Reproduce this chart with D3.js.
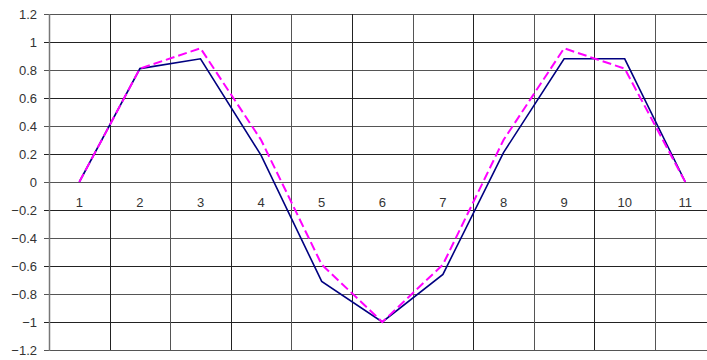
<!DOCTYPE html>
<html>
<head>
<meta charset="utf-8">
<script src="https://cdn.jsdelivr.net/npm/d3@7"></script>
<style>
  html, body { margin: 0; padding: 0; background: #fff; overflow: hidden; }
  svg { display: block; }
  text { font-family: "Liberation Sans", Arial, sans-serif; fill: #333; }
</style>
</head>
<body>
<div id="chart"></div>
<script>
// categories and series
const categories = ["1","2","3","4","5","6","7","8","9","10","11"];
const solidSeries = [0, 0.81, 0.88, 0.19, -0.71, -1.0, -0.66, 0.21, 0.88, 0.88, 0];
const dashedSeries = [0, 0.81, 0.955, 0.3, -0.59, -1.0, -0.59, 0.3, 0.955, 0.81, 0];
const yTicks = [-1.2, -1, -0.8, -0.6, -0.4, -0.2, 0, 0.2, 0.4, 0.6, 0.8, 1, 1.2];

const W = 707, H = 360;
const plotLeft = 49, plotTop = 14, plotBottom = 350;
const step = 60.6;

const svg = d3.select("#chart").append("svg").attr("width", W).attr("height", H);

const x = d3.scaleBand().domain(categories).range([plotLeft, plotLeft + step * categories.length]);
const y = d3.scaleLinear().domain([-1.2, 1.2]).range([plotBottom, plotTop]);
const xc = d => x(d) + x.bandwidth() / 2;

// horizontal grid
svg.append("g").selectAll("line").data(yTicks).join("line")
  .attr("x1", plotLeft - 5).attr("x2", plotLeft + step * categories.length)
  .attr("y1", d => Math.round(y(d)) + 0.5).attr("y2", d => Math.round(y(d)) + 0.5)
  .attr("stroke", (d, i) => i % 2 ? "#222" : "#555").attr("stroke-width", 1);

// vertical grid at category boundaries
svg.append("g").selectAll("line").data(categories.slice(1)).join("line")
  .attr("x1", d => Math.round(x(d)) + 0.5).attr("x2", d => Math.round(x(d)) + 0.5)
  .attr("y1", plotTop).attr("y2", plotBottom)
  .attr("stroke", (d, i) => i % 2 ? "#555" : "#222").attr("stroke-width", 1);

// left axis line
svg.append("line")
  .attr("x1", plotLeft + 0.5).attr("x2", plotLeft + 0.5)
  .attr("y1", plotTop).attr("y2", plotBottom + 1)
  .attr("stroke", "#777").attr("stroke-width", 1.5);

// y labels
svg.append("g").selectAll("text").data(yTicks).join("text")
  .attr("x", 37).attr("y", d => y(d) + 4.5)
  .attr("text-anchor", "end")
  .style("font-size", "13px")
  .text(d => d3.format("")(d));

// x labels next to zero line
svg.append("g").selectAll("text").data(categories).join("text")
  .attr("x", d => xc(d)).attr("y", y(0) + 25)
  .attr("text-anchor", "middle")
  .style("font-size", "13px")
  .text(d => d);

const line = d3.line().x((d, i) => xc(categories[i])).y(d => y(d));

svg.append("path").datum(solidSeries)
  .attr("fill", "none").attr("stroke", "#000080").attr("stroke-width", 1.6)
  .attr("d", line);

svg.append("path").datum(dashedSeries)
  .attr("fill", "none").attr("stroke", "#ff00ff").attr("stroke-width", 2)
  .attr("stroke-dasharray", "9,4")
  .attr("d", line);
</script>
</body>
</html>
